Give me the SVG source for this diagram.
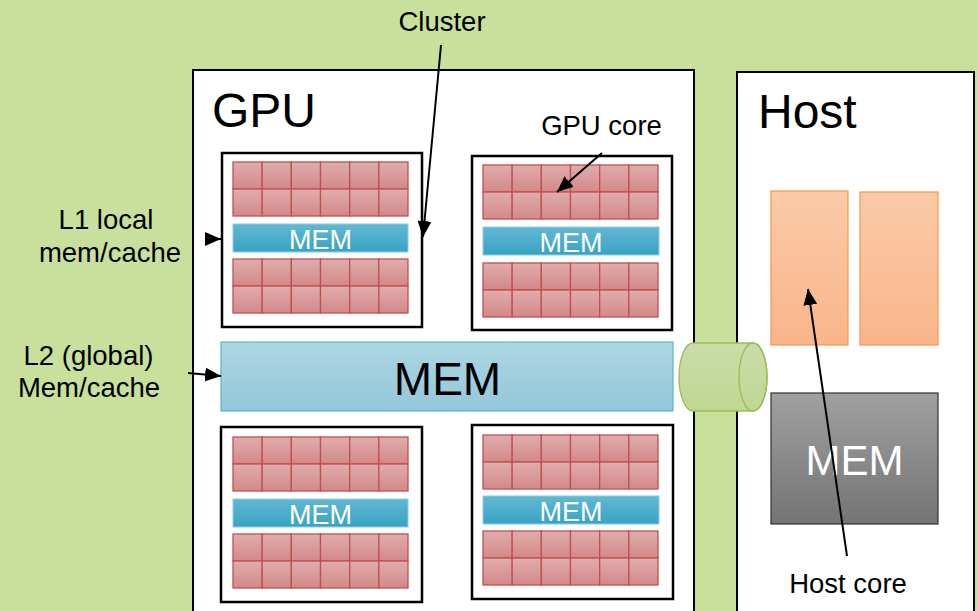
<svg xmlns="http://www.w3.org/2000/svg" xmlns:xlink="http://www.w3.org/1999/xlink" width="977" height="611" viewBox="0 0 977 611">
<defs>
<linearGradient id="gCell" x1="0" y1="0" x2="0" y2="1"><stop offset="0" stop-color="#e0adad"/><stop offset="1" stop-color="#d38888"/></linearGradient>
<linearGradient id="gMem" x1="0" y1="0" x2="0" y2="1"><stop offset="0" stop-color="#62b8d2"/><stop offset="1" stop-color="#38a3c3"/></linearGradient>
<linearGradient id="gL2" x1="0" y1="0" x2="0" y2="1"><stop offset="0" stop-color="#add6e3"/><stop offset="1" stop-color="#93c7d9"/></linearGradient>
<linearGradient id="gHost" x1="0" y1="0" x2="0" y2="1"><stop offset="0" stop-color="#fbcaa8"/><stop offset="1" stop-color="#f9b58a"/></linearGradient>
<linearGradient id="gHMem" x1="0" y1="0" x2="0" y2="1"><stop offset="0" stop-color="#a0a0a0"/><stop offset="1" stop-color="#747474"/></linearGradient>
<linearGradient id="gCyl" x1="0" y1="0" x2="0" y2="1"><stop offset="0" stop-color="#cbdca9"/><stop offset="1" stop-color="#c0d792"/></linearGradient>
<marker id="ahB" viewBox="0 0 10 10" refX="10" refY="5" markerWidth="16" markerHeight="14" orient="auto" markerUnits="userSpaceOnUse" preserveAspectRatio="none">
<path d="M0,0 L10,5 L0,10 Z" fill="#000"/>
</marker>
<g id="cores">
<rect x="0" y="0" width="29.17" height="27" class="cell"/>
<rect x="29.17" y="0" width="29.17" height="27" class="cell"/>
<rect x="58.33" y="0" width="29.17" height="27" class="cell"/>
<rect x="87.5" y="0" width="29.17" height="27" class="cell"/>
<rect x="116.67" y="0" width="29.17" height="27" class="cell"/>
<rect x="145.83" y="0" width="29.17" height="27" class="cell"/>
<rect x="0" y="27" width="29.17" height="27" class="cell"/>
<rect x="29.17" y="27" width="29.17" height="27" class="cell"/>
<rect x="58.33" y="27" width="29.17" height="27" class="cell"/>
<rect x="87.5" y="27" width="29.17" height="27" class="cell"/>
<rect x="116.67" y="27" width="29.17" height="27" class="cell"/>
<rect x="145.83" y="27" width="29.17" height="27" class="cell"/>
</g>
</defs>
<style>
text{font-family:"Liberation Sans",Arial,sans-serif;fill:#000}
.cell{fill:url(#gCell);stroke:#c0504d;stroke-width:1.3}
.cluster{fill:#fff;stroke:#000;stroke-width:2.5}
.mem{fill:url(#gMem);stroke:#8ccde0;stroke-width:1}
.memt{fill:#fff;font-size:27px;text-anchor:middle}
.lbl{font-size:27.5px}
.arr{stroke:#000;stroke-width:2;fill:none;marker-end:url(#ahB)}
</style>
<rect x="0" y="0" width="977" height="611" fill="#c8e09c"/>

<g id="gpu">
<rect x="193" y="70" width="501" height="560" fill="#fff" stroke="#000" stroke-width="2"/>
<text x="212" y="127" font-size="48">GPU</text>
</g>

<g id="host">
<rect x="737" y="72" width="237" height="560" fill="#fff" stroke="#000" stroke-width="2"/>
<text x="758" y="128" font-size="48">Host</text>
</g>

<g id="cluster1" transform="translate(222,153)">
<rect class="cluster" x="0" y="0" width="200" height="174"/>
<use xlink:href="#cores" href="#cores" x="11" y="9"/>
<rect class="mem" x="11" y="71" width="175" height="28"/>
<text class="memt" x="98.5" y="96">MEM</text>
<use xlink:href="#cores" href="#cores" x="11" y="106"/>
</g>

<g id="cluster2" transform="translate(472,156)">
<rect class="cluster" x="0" y="0" width="200" height="174"/>
<use xlink:href="#cores" href="#cores" x="11" y="9"/>
<rect class="mem" x="11" y="71" width="176" height="28"/>
<text class="memt" x="99" y="96">MEM</text>
<use xlink:href="#cores" href="#cores" x="11" y="107"/>
</g>

<g id="cluster3" transform="translate(221,427)">
<rect class="cluster" x="0" y="0" width="201" height="175"/>
<use xlink:href="#cores" href="#cores" x="12" y="10"/>
<rect class="mem" x="12" y="72" width="175" height="28"/>
<text class="memt" x="99.5" y="97">MEM</text>
<use xlink:href="#cores" href="#cores" x="12" y="107"/>
</g>

<g id="cluster4" transform="translate(472,425)">
<rect class="cluster" x="0" y="0" width="201" height="174"/>
<use xlink:href="#cores" href="#cores" x="11" y="10"/>
<rect class="mem" x="11" y="71" width="176" height="28"/>
<text class="memt" x="99" y="96">MEM</text>
<use xlink:href="#cores" href="#cores" x="11" y="106"/>
</g>

<g id="l2mem">
<rect x="221" y="342" width="452" height="69" fill="url(#gL2)" stroke="#5db3cc" stroke-width="1.2"/>
<text x="447.5" y="395" font-size="46" text-anchor="middle">MEM</text>
</g>

<g id="hostcore1">
<rect x="771" y="191" width="77" height="154" fill="url(#gHost)" stroke="#f79646" stroke-width="1.2"/>
</g>
<g id="hostcore2">
<rect x="860" y="192" width="78" height="153" fill="url(#gHost)" stroke="#f79646" stroke-width="1.2"/>
</g>

<g id="hostmem">
<rect x="771" y="393" width="167" height="131" fill="url(#gHMem)" stroke="#333" stroke-width="1.2"/>
<text x="854.5" y="475" font-size="42" text-anchor="middle" style="fill:#fff">MEM</text>
</g>

<g id="link">
<path d="M693,343 L753,343 A14,34 0 0 1 753,411 L693,411 A14,34 0 0 1 693,343 Z" fill="url(#gCyl)" stroke="#9bbb59" stroke-width="1.3"/>
<ellipse cx="753" cy="377" rx="14" ry="34" fill="none" stroke="#9bbb59" stroke-width="1.3"/>
</g>

<g id="labels">
<text class="lbl" x="442" y="31" text-anchor="middle">Cluster</text>
<text class="lbl" x="601.5" y="135" text-anchor="middle">GPU core</text>
<text class="lbl" x="106" y="229" text-anchor="middle">L1 local</text>
<text class="lbl" x="110" y="262" text-anchor="middle">mem/cache</text>
<text class="lbl" x="88.5" y="365" text-anchor="middle">L2 (global)</text>
<text class="lbl" x="89" y="397" text-anchor="middle">Mem/cache</text>
<text class="lbl" x="848" y="593" text-anchor="middle">Host core</text>
</g>

<g id="connectors">
<line class="arr" x1="441" y1="45" x2="423" y2="237"/>
<line class="arr" x1="602" y1="153" x2="557" y2="192"/>
<line class="arr" x1="205" y1="239" x2="221" y2="239"/>
<line class="arr" x1="188" y1="373" x2="221" y2="376"/>
<line class="arr" x1="847" y1="556" x2="808" y2="289"/>
</g>
</svg>
